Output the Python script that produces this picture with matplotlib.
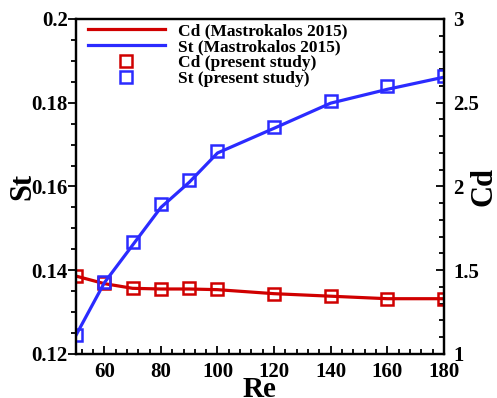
import matplotlib
matplotlib.use("Agg")
import matplotlib.pyplot as plt
from matplotlib.ticker import MultipleLocator, FormatStrFormatter
import numpy as np

plt.rcParams['font.family'] = 'Liberation Serif'
plt.rcParams['font.weight'] = 'bold'
plt.rcParams['axes.labelweight'] = 'bold'

# Reynolds numbers
re = [50, 60, 70, 80, 90, 100, 120, 140, 160, 180]

# Mastrokalos 2015 (lines)
st_ref = [0.1245, 0.1370, 0.1460, 0.1550, 0.1610, 0.1680, 0.1739, 0.1799, 0.1832, 0.1861]
cd_ref = [1.465, 1.420, 1.392, 1.388, 1.388, 1.384, 1.360, 1.345, 1.330, 1.330]

# present study (markers)
st_now = [0.1245, 0.1373, 0.1468, 0.1558, 0.1616, 0.1685, 0.1743, 0.1805, 0.1840, 0.1864]
cd_now = [1.4675, 1.422, 1.396, 1.388, 1.392, 1.386, 1.356, 1.344, 1.327, 1.330]

red = '#d00000'
blue = '#2b2bff'

fig = plt.figure(figsize=(4.97, 3.98), dpi=100)
ax = fig.add_axes([0.153, 0.1106, 0.740, 0.8417])
ax2 = ax.twinx()

# Cd on right axis
l1, = ax2.plot(re, cd_ref, '-', color=red, lw=2.3, label='Cd (Mastrokalos 2015)')
m1, = ax2.plot(re, cd_now, 's', color=red, mfc='none', mew=1.8, ms=8, label='Cd (present study)')

# St on left axis
l2, = ax.plot(re, st_ref, '-', color=blue, lw=2.3, label='St (Mastrokalos 2015)')
m2, = ax.plot(re, st_now, 's', color=blue, mfc='none', mew=1.8, ms=8, label='St (present study)')

ax.set_xlim(50, 180)
ax.set_ylim(0.12, 0.2)
ax2.set_ylim(1, 3)

ax.xaxis.set_major_locator(MultipleLocator(20))
ax.xaxis.set_minor_locator(MultipleLocator(4))
ax.yaxis.set_major_locator(MultipleLocator(0.02))
ax.yaxis.set_minor_locator(MultipleLocator(0.005))
ax.yaxis.set_major_formatter(FormatStrFormatter('%g'))
ax2.yaxis.set_major_locator(MultipleLocator(0.5))
ax2.yaxis.set_minor_locator(MultipleLocator(0.1))
ax2.yaxis.set_major_formatter(FormatStrFormatter('%g'))

ax.tick_params(axis='x', which='both', direction='in', top=False, labelsize=15, pad=6, width=1.3)
ax.tick_params(axis='x', which='major', length=6)
ax.tick_params(axis='x', which='minor', length=3.5)
ax.tick_params(axis='y', which='both', direction='out', labelsize=15, width=1.3, pad=0)
ax.tick_params(axis='y', which='major', length=6)
ax.tick_params(axis='y', which='minor', length=3.5)
ax2.tick_params(axis='y', which='both', direction='in', labelsize=15, width=1.3, pad=7)
ax2.tick_params(axis='y', which='major', length=6)
ax2.tick_params(axis='y', which='minor', length=3.5)

for a in (ax, ax2):
    for s in a.spines.values():
        s.set_linewidth(1.6)

ax.set_xlabel('Re', fontsize=21)
ax.set_ylabel('St', fontsize=22)
ax2.set_ylabel('Cd', fontsize=22, rotation=90)
ax.xaxis.set_label_coords(0.5, -0.065)
ax.yaxis.set_label_coords(-0.106, 0.5)
ax2.yaxis.set_label_coords(1.071, 0.5)

# keep St on top of Cd
ax.set_zorder(ax2.get_zorder() + 1)
ax.patch.set_visible(False)

ax.legend([l1, l2, m1, m2],
          ['Cd (Mastrokalos 2015)', 'St (Mastrokalos 2015)',
           'Cd (present study)', 'St (present study)'],
          loc='upper left', bbox_to_anchor=(0.0, 1.025), frameon=False,
          fontsize=12.5, handlelength=4.4, handletextpad=0.8,
          labelspacing=0.0, borderaxespad=0.3)

fig.savefig('out.png', dpi=100)
